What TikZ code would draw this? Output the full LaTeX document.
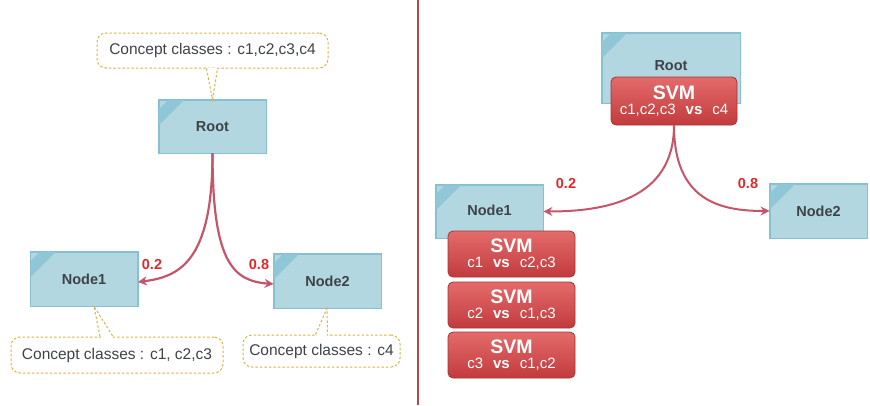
\documentclass[tikz,border=0pt]{standalone}
\usepackage{fontspec}
\setmainfont{Liberation Sans}
\usetikzlibrary{arrows.meta,calc}
\definecolor{bfill}{HTML}{B3D7E1}
\definecolor{bdraw}{HTML}{85C1D3}
\definecolor{bstripe}{HTML}{8FC7D8}
\definecolor{rtop}{HTML}{E46B6B}
\definecolor{rbot}{HTML}{C23B3D}
\definecolor{rdraw}{HTML}{A63336}
\definecolor{arr}{HTML}{C5566A}
\definecolor{lab}{HTML}{E02A2A}
\definecolor{callb}{HTML}{D8B44C}
\definecolor{txt}{HTML}{3E4348}
\definecolor{divc}{HTML}{B04A4A}
\newcommand{\svmT}{\fontsize{19.5}{21}\selectfont\bfseries}
\newcommand{\vsw}{\hspace{10pt}\textbf{vs}\hspace{10pt}}
\tikzset{
  bluebox/.style={draw=bdraw, fill=bfill, line width=0.8pt, inner sep=0pt},
  svmbox/.style={draw=rdraw, top color=rtop, bottom color=rbot, rounded corners=5pt, line width=0.8pt, text=white, align=center, inner sep=0pt, minimum width=127pt, minimum height=46pt, font=\fontsize{15}{17}\selectfont},
  callout/.style={draw=callb, dash pattern=on 2.5pt off 2pt, line width=1pt, fill=white, rounded corners=9pt, font=\fontsize{15.5}{17}\selectfont, text=txt, inner sep=0pt},
  pointer/.style={draw=callb, dash pattern=on 2.5pt off 2pt, line width=1pt},
  gap/.style={draw=white, line width=2pt},
  link/.style={draw=arr, line width=2.2pt, -{Stealth[length=9pt,width=9pt]}},
  prob/.style={text=lab, font=\fontsize{14.5}{15}\selectfont\bfseries, inner sep=0pt},
  lbl/.style={font=\fontsize{14.5}{16}\selectfont\bfseries, text=txt}
}
\newcommand{\stripe}[1]{%
  \begin{scope}
    \clip (#1.north west) rectangle (#1.south east);
    \fill[bstripe] ($(#1.north west)+(10,0)$) -- ($(#1.north west)+(26,0)$) -- ($(#1.north west)+(0,26)$) -- ($(#1.north west)+(0,10)$) -- cycle;
  \end{scope}%
  \draw[bdraw, line width=0.8pt] (#1.north west) rectangle (#1.south east);
}
\begin{document}
\begin{tikzpicture}[x=1pt,y=-1pt]
\useasboundingbox (0,0) rectangle (870,405);
% divider
\draw[divc, line width=1.6pt] (418,0) -- (418,405);

% ---------- left ----------
\node[bluebox, minimum width=107pt, minimum height=53pt] (lroot) at (212.5,126.5) {};
\stripe{lroot}
\node[lbl] (lrootl) at (lroot) {Root};
\node[bluebox, minimum width=107pt, minimum height=54pt] (ln1) at (84,279) {};
\stripe{ln1}
\node[lbl] (ln1l) at (ln1) {Node1};
\node[bluebox, minimum width=107pt, minimum height=54pt] (ln2) at (327.5,281) {};
\stripe{ln2}
\node[lbl] (ln2l) at (ln2) {Node2};

\node[callout, minimum width=231pt, minimum height=35pt] (c0) at (212.5,50.5) {Concept classes : c1,c2,c3,c4};
\node[callout, minimum width=212pt, minimum height=36pt] (c1) at (117,355) {Concept classes : c1, c2,c3};
\node[callout, minimum width=157pt, minimum height=32pt] (c2) at (321.5,351) {Concept classes : c4};

\coordinate (t0) at ([xshift=0pt]lroot.north);
\draw[gap] ([xshift=-5pt]c0.south) -- ([xshift=4pt]c0.south);
\draw[pointer] ([xshift=-6pt]c0.south) -- (t0) -- ([xshift=5pt]c0.south);
\coordinate (t1) at ([xshift=10pt]ln1.south);
\draw[gap] ([xshift=-16pt]c1.north) -- ([xshift=-5pt]c1.north);
\draw[pointer] ([xshift=-17pt]c1.north) -- (t1) -- ([xshift=-4pt]c1.north);
\coordinate (t2) at ([xshift=-0.5pt]ln2.south);
\draw[gap] ([xshift=-5pt]c2.north) -- ([xshift=5pt]c2.north);
\draw[pointer] ([xshift=-6pt]c2.north) -- (t2) -- ([xshift=6pt]c2.north);

\draw[link] (lroot.south) .. controls ([yshift=-110pt]lroot.south) and ([xshift=40pt,yshift=2pt]ln1.east) .. ([yshift=-3pt]ln1.east);
\draw[link] (lroot.south) .. controls ([yshift=-110pt]lroot.south) and ([xshift=-40pt,yshift=0pt]ln2.west) .. ([yshift=-3pt]ln2.west);
\node[prob] (p1) at (152,265) {0.2};
\node[prob] (p2) at (259,265) {0.8};

% ---------- right ----------
\node[bluebox, minimum width=138pt, minimum height=70pt] (rroot) at (671,68) {};
\stripe{rroot}
\node[lbl] (rrootl) at (671,66) {Root};
\node[svmbox, minimum width=126pt, minimum height=48pt] (s0) at (674,101) {{\svmT SVM}\\[-2pt]c1,c2,c3\vsw c4};

\node[bluebox, minimum width=107pt, minimum height=53pt] (rn1) at (489.5,211.5) {};
\stripe{rn1}
\node[lbl] (rn1l) at (489.5,210) {Node1};
\node[bluebox, minimum width=97pt, minimum height=54pt] (rn2) at (818.5,211) {};
\stripe{rn2}
\node[lbl] (rn2l) at (818.5,211) {Node2};

\node[svmbox] (s1) at (511.5,254) {{\svmT SVM}\\[-2pt]c1\vsw c2,c3};
\node[svmbox] (s2) at (511.5,305) {{\svmT SVM}\\[-2pt]c2\vsw c1,c3};
\node[svmbox] (s3) at (511.5,355) {{\svmT SVM}\\[-2pt]c3\vsw c1,c2};

\draw[link, line width=2pt] (s0.south) .. controls ([yshift=-75pt]s0.south) and ([xshift=60pt,yshift=0pt]rn1.east) .. ([yshift=0pt]rn1.east);
\draw[link, line width=2pt] (s0.south) .. controls ([yshift=-75pt]s0.south) and ([xshift=-50pt,yshift=0pt]rn2.west) .. ([yshift=0pt]rn2.west);
\node[prob] (p3) at (566,184) {0.2};
\node[prob] (p4) at (748,184) {0.8};
\end{tikzpicture}
\end{document}
